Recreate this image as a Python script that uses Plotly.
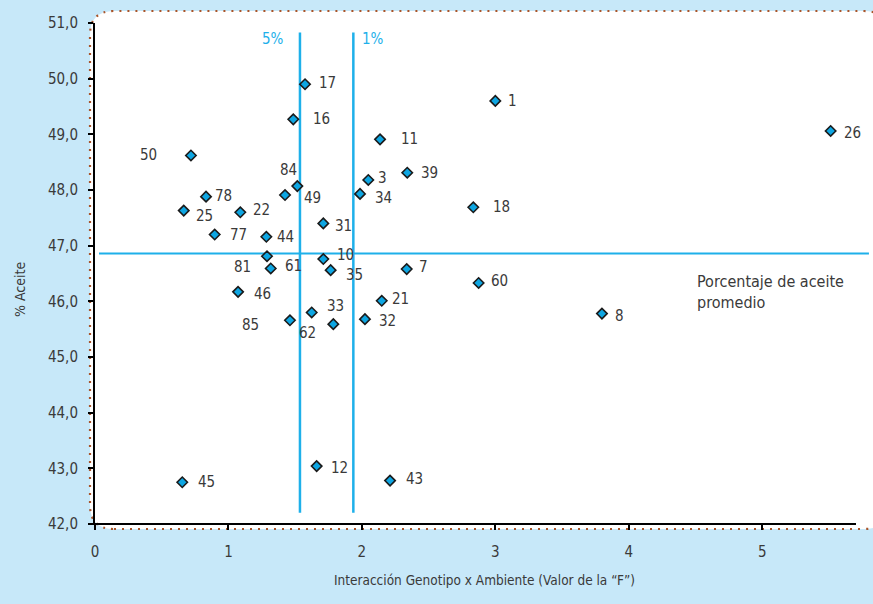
import plotly.graph_objects as go

# ---- data ----
genotipos = ["17", "1", "16", "11", "26", "50", "84", "49", "3", "39", "34", "78",
             "25", "22", "18", "31", "77", "44", "81", "10", "61", "35", "7", "60",
             "46", "21", "33", "62", "85", "32", "8", "12", "43", "45"]
interaccion_f = [1.574, 3.000, 1.486, 2.136, 5.513, 0.719, 1.516, 1.424, 2.048, 2.340,
                 1.986, 0.832, 0.665, 1.089, 2.835, 1.711, 0.897, 1.284, 1.289, 1.711,
                 1.317, 1.766, 2.336, 2.875, 1.072, 2.149, 1.624, 1.786, 1.461, 2.023,
                 3.799, 1.661, 2.211, 0.654]
aceite = [49.90, 49.60, 49.27, 48.91, 49.06, 48.62, 48.07, 47.91, 48.18, 48.31,
          47.93, 47.88, 47.63, 47.60, 47.69, 47.40, 47.20, 47.16, 46.81, 46.76,
          46.59, 46.56, 46.58, 46.33, 46.17, 46.01, 45.80, 45.59, 45.66, 45.68,
          45.78, 43.04, 42.78, 42.75]
aceite_promedio = 46.86
f_5 = 1.536
f_1 = 1.936
x_ticks = [0, 1, 2, 3, 4, 5]

# label placement (pixels): anchor, dx, dy(down positive)
label_pos = {
    "17": ("left", 12, -1), "1": ("left", 11, 0), "16": ("left", 18, 0),
    "11": ("left", 19, 0), "26": ("left", 11, 2), "50": ("right", -32, 0),
    "84": ("center", -9, -16), "49": ("left", 17, 3), "3": ("left", 8, -2),
    "39": ("left", 12, 0), "34": ("left", 13, 4), "78": ("left", 7, -1),
    "25": ("left", 10, 5), "22": ("left", 11, -2), "18": ("left", 18, 0),
    "31": ("left", 10, 3), "77": ("left", 13, 0), "44": ("left", 9, 0),
    "81": ("right", -14, 11), "10": ("left", 12, -4), "61": ("left", 12, -2),
    "35": ("left", 13, 5), "7": ("left", 10, -2), "60": ("left", 10, -2),
    "46": ("left", 14, 2), "21": ("left", 8, -2), "33": ("left", 13, -6),
    "62": ("right", -15, 9), "85": ("right", -29, 5), "32": ("left", 12, 2),
    "8": ("left", 11, 2), "12": ("left", 12, 2), "43": ("left", 14, -2),
    "45": ("left", 14, 0),
}

FONT = "DejaVu Sans Condensed, Liberation Sans Narrow, Arial Narrow, sans-serif"
TXT = "#3a3a3a"
BLUE = "#1eb0ea"
BG = "#c7e8f9"
BROWN = "#a8542a"

W, H = 873, 604
ML, MR, MT, MB = 95, 0, 23, 80
PW = W - ML - MR
PH = H - MT - MB
XMAX = PW / 133.44


def px(xp):
    return (xp - ML) / PW


def py(yp):
    return (H - MB - yp) / PH


fig = go.Figure()

# horizontal mean line and vertical significance lines
fig.add_trace(go.Scatter(x=[0.03, 5.80], y=[aceite_promedio, aceite_promedio], mode="lines",
                         line=dict(color=BLUE, width=2), hoverinfo="skip", showlegend=False,
                         cliponaxis=False))
for fv in (f_5, f_1):
    fig.add_trace(go.Scatter(x=[fv, fv], y=[42.2, 50.83], mode="lines",
                             line=dict(color=BLUE, width=2.5), hoverinfo="skip",
                             showlegend=False))

fig.add_trace(go.Scatter(
    x=interaccion_f, y=aceite, mode="markers",
    marker=dict(symbol="diamond", size=8, color="#0ea6e2",
                line=dict(color="#1a1a1a", width=1.6)),
    text=genotipos, hoverinfo="text", showlegend=False, cliponaxis=False))

annotations = []
for g, xv, yv in zip(genotipos, interaccion_f, aceite):
    anc, dx, dy = label_pos[g]
    annotations.append(dict(x=xv, y=yv, text=g, showarrow=False, xanchor=anc,
                            yanchor="middle", xshift=dx, yshift=-dy,
                            font=dict(family=FONT, size=15, color=TXT)))

annotations += [
    dict(x=f_5, y=50.72, text="5%", showarrow=False, xanchor="right", yanchor="middle",
         xshift=-14, font=dict(family=FONT, size=15, color=BLUE)),
    dict(x=f_1, y=50.72, text="1%", showarrow=False, xanchor="left", yanchor="middle",
         xshift=7, font=dict(family=FONT, size=15, color=BLUE)),
    dict(xref="paper", yref="paper", x=px(695), y=py(292), text="Porcentaje de aceite<br>promedio",
         showarrow=False, xanchor="left", yanchor="middle", align="left",
         font=dict(family=FONT, size=16, color=TXT)),
    dict(xref="paper", yref="paper", x=px(485), y=py(580),
         text="Interacción Genotipo x Ambiente (Valor de la “F”)",
         showarrow=False, xanchor="center", yanchor="middle",
         font=dict(family=FONT, size=13.5, color=TXT)),
    dict(xref="paper", yref="paper", x=px(20), y=py(290), text="% Aceite", textangle=-90,
         showarrow=False, xanchor="center", yanchor="middle",
         font=dict(family=FONT, size=14, color=TXT)),
]

# rounded white panel with dotted border
x0, x1, y0, y1, r = 90, 888, 11, 529, 24
rx, ry = r / PW, r / PH
X0, X1, Y0, Y1 = px(x0), px(x1), py(y1), py(y0)
path = (f"M {X0 + rx},{Y0} L {X1 - rx},{Y0} Q {X1},{Y0} {X1},{Y0 + ry} "
        f"L {X1},{Y1 - ry} Q {X1},{Y1} {X1 - rx},{Y1} L {X0 + rx},{Y1} "
        f"Q {X0},{Y1} {X0},{Y1 - ry} L {X0},{Y0 + ry} Q {X0},{Y0} {X0 + rx},{Y0} Z")
shapes = [
    dict(type="path", xref="paper", yref="paper", path=path, fillcolor="white",
         line=dict(color=BROWN, width=2.2, dash="2px,6px"), layer="below"),
    dict(type="line", xref="paper", yref="paper", x0=px(93), x1=px(856), y0=0, y1=0,
         line=dict(color="black", width=2), layer="above"),
]

fig.update_layout(
    width=W, height=H, margin=dict(l=ML, r=MR, t=MT, b=MB),
    paper_bgcolor=BG, plot_bgcolor="rgba(0,0,0,0)",
    separators=",.", showlegend=False,
    annotations=annotations, shapes=shapes,
    font=dict(family=FONT, size=15, color=TXT),
)
fig.update_xaxes(range=[0, XMAX], tickvals=x_ticks, ticks="outside", ticklen=5, tickwidth=1.5,
                 tickcolor="black", showgrid=False, zeroline=False, showline=False,
                 ticklabelstandoff=9, tickfont=dict(family=FONT, size=15, color=TXT))
fig.update_yaxes(range=[42, 51], dtick=1, tick0=42, tickformat=".1f", ticks="outside",
                 ticklen=5, tickwidth=1.5, tickcolor="black", showgrid=False, zeroline=False,
                 showline=True, linecolor="black", linewidth=2, ticklabelstandoff=7,
                 tickfont=dict(family=FONT, size=15, color=TXT))

fig.write_html("out.html", config={"displayModeBar": False},
               post_script="document.body.style.margin='0';")
